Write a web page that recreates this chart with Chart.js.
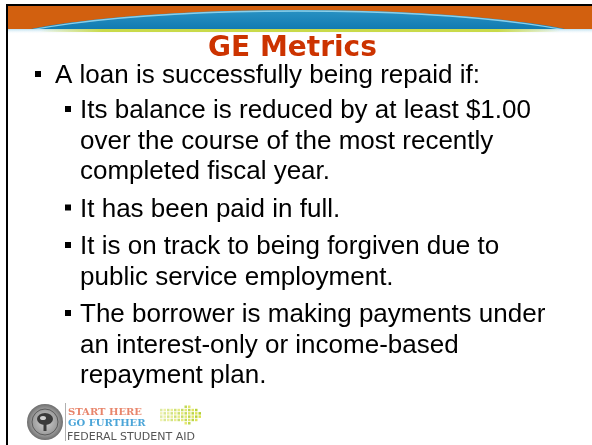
<!DOCTYPE html>
<html>
<head>
<meta charset="utf-8">
<script src="https://cdn.jsdelivr.net/npm/chart.js@4/dist/chart.umd.min.js"></script>
<style>
  html, body { margin: 0; padding: 0; background: #ffffff; }
  #wrap { position: relative; width: 592px; height: 445px; overflow: hidden; }
  canvas { display: block; }
</style>
</head>
<body>
<div id="wrap"><canvas id="slide" width="592" height="445"></canvas></div>
<script>
// ---- slide content ----
const titleText = 'GE Metrics';
const level1Items = ['A loan is successfully being repaid if:'];
const level2Items = [
  ['Its balance is reduced by at least $1.00', 'over the course of the most recently', 'completed fiscal year.'],
  ['It has been paid in full.'],
  ['It is on track to being forgiven due to', 'public service employment.'],
  ['The borrower is making payments under', 'an interest-only or income-based', 'repayment plan.']
];
const logoLines = ['START HERE', 'GO FURTHER', 'FEDERAL STUDENT AID'];

const BODY_FONT = '26px "Liberation Sans", Arial, sans-serif';
const LINE_STEP = 30.5;
const L1_STEP = 35;
const L2_STEP = 37.5;

const slideDecor = {
  id: 'slideDecor',
  beforeDraw(chart) {
    const ctx = chart.ctx;
    const W = chart.width, H = chart.height;
    ctx.save();
    ctx.fillStyle = '#ffffff';
    ctx.fillRect(0, 0, W, H);

    // orange header strip
    ctx.fillStyle = '#d2600f';
    ctx.fillRect(8, 6, W - 8, 23);

    // blue arc band
    ctx.save();
    ctx.beginPath();
    ctx.rect(8, 6, W - 8, 23);
    ctx.clip();
    const g = ctx.createLinearGradient(0, 9, 0, 29);
    g.addColorStop(0, '#2b93c4');
    g.addColorStop(1, '#117bb2');
    ctx.fillStyle = g;
    ctx.beginPath();
    ctx.ellipse(298, 53, 322, 43, 0, 0, Math.PI * 2);
    ctx.fill();
    ctx.strokeStyle = 'rgba(150,215,240,0.9)';
    ctx.lineWidth = 1.3;
    ctx.beginPath();
    ctx.ellipse(298, 54, 322, 43, 0, Math.PI, Math.PI * 2);
    ctx.stroke();
    ctx.restore();

    // light glow under header
    const glow = ctx.createLinearGradient(0, 29, 0, 34);
    glow.addColorStop(0, 'rgba(170,215,235,0.8)');
    glow.addColorStop(1, 'rgba(255,255,255,0)');
    ctx.fillStyle = glow;
    ctx.fillRect(8, 29, W - 8, 5);

    // lime line
    const lime = ctx.createLinearGradient(40, 0, 560, 0);
    lime.addColorStop(0, 'rgba(201,218,74,0)');
    lime.addColorStop(0.12, 'rgba(201,218,74,1)');
    lime.addColorStop(0.88, 'rgba(201,218,74,1)');
    lime.addColorStop(1, 'rgba(201,218,74,0)');
    ctx.fillStyle = lime;
    ctx.fillRect(40, 29, 520, 3);

    // black frame
    ctx.fillStyle = '#000000';
    ctx.fillRect(6, 4, W - 6, 2);
    ctx.fillRect(6, 4, 2, H - 4);
    ctx.restore();
  },
  afterDraw(chart) {
    const ctx = chart.ctx;
    ctx.save();
    ctx.fillStyle = '#000000';
    ctx.font = BODY_FONT;
    ctx.textBaseline = 'alphabetic';
    let y = 83;
    level1Items.forEach(t => {
      ctx.fillRect(35, y - 12, 6, 6);
      ctx.fillText(t, 55, y);
      y += L1_STEP;
    });
    level2Items.forEach(lines => {
      ctx.fillRect(65, y - 12, 6, 6);
      lines.forEach((t, i) => {
        ctx.fillText(t, 80, y);
        if (i < lines.length - 1) y += LINE_STEP;
      });
      y += L2_STEP;
    });

    // ---- logo ----
    const cx = 45, cy = 422;
    const rg = ctx.createRadialGradient(cx, cy, 2, cx, cy, 18);
    rg.addColorStop(0, '#c8c8c8');
    rg.addColorStop(0.7, '#9a9a9a');
    rg.addColorStop(1, '#6e6e6e');
    ctx.fillStyle = rg;
    ctx.beginPath(); ctx.arc(cx, cy, 18, 0, Math.PI * 2); ctx.fill();
    ctx.strokeStyle = '#5a5a5a'; ctx.lineWidth = 1;
    ctx.beginPath(); ctx.arc(cx, cy, 13, 0, Math.PI * 2); ctx.stroke();
    ctx.fillStyle = '#3a3a3a';
    ctx.beginPath(); ctx.ellipse(cx, cy - 3, 8, 6, 0, 0, Math.PI * 2); ctx.fill();
    ctx.fillRect(cx - 1.5, cy, 3, 9);
    ctx.fillStyle = '#d0d0d0';
    ctx.beginPath(); ctx.ellipse(cx - 2, cy - 4, 3, 2, 0, 0, Math.PI * 2); ctx.fill();

    // divider
    ctx.fillStyle = '#b0b0b0';
    ctx.fillRect(65, 403, 1, 38);

    // dotted arrow (decoration)
    const rows = 6, cols = 12;
    for (let r = 0; r < rows; r++) {
      for (let c = 0; c < cols; c++) {
        const x = 160 + c * 3.5;
        const yy = 405.5 + r * 3.3;
        const edgeRow = (r === 0 || r === rows - 1);
        if (edgeRow && (c < 7 || c > 8)) continue;
        if (c === 9 && edgeRow) continue;
        if (c === 10 && (r < 1 || r > 4)) continue;
        if (c === 11 && (r < 2 || r > 3)) continue;
        const a = 0.45 + 0.55 * (c / (cols - 1));
        ctx.fillStyle = (c + r) % 2 ? `rgba(178,208,50,${a})` : `rgba(222,226,80,${a})`;
        ctx.fillRect(x, yy, 2.5, 2.5);
      }
    }

    ctx.textBaseline = 'alphabetic';
    ctx.font = 'bold 10px "DejaVu Serif", serif';
    ctx.fillStyle = '#e8856b';
    ctx.fillText(logoLines[0], 68, 415, 95);
    ctx.fillStyle = '#4ba5d8';
    ctx.fillText(logoLines[1], 68, 426, 82);
    ctx.font = '11px "DejaVu Sans", sans-serif';
    ctx.fillStyle = '#555555';
    ctx.fillText(logoLines[2], 67, 440, 135);
    ctx.restore();
  }
};

new Chart(document.getElementById('slide'), {
  type: 'scatter',
  data: { datasets: [] },
  options: {
    responsive: false,
    devicePixelRatio: 1,
    animation: false,
    layout: { padding: { left: 0, right: 7, top: 0, bottom: 0 } },
    scales: { x: { display: false }, y: { display: false } },
    plugins: {
      legend: { display: false },
      tooltip: { enabled: false },
      title: {
        display: true,
        text: titleText,
        color: '#cc3300',
        font: { family: '"DejaVu Sans", Verdana, sans-serif', size: 28, weight: 'bold', lineHeight: 1.2 },
        padding: { top: 32, bottom: 0 }
      }
    }
  },
  plugins: [slideDecor]
});
</script>
</body>
</html>
